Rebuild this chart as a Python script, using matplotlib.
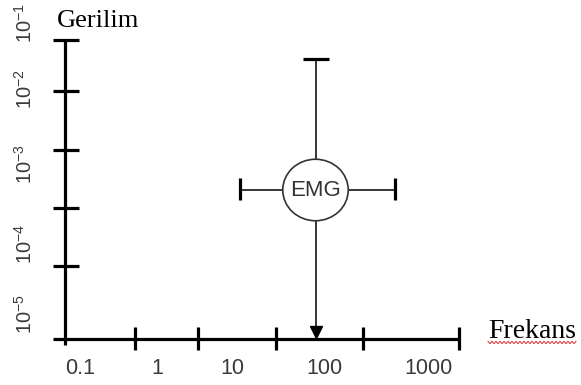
import matplotlib.pyplot as plt
import numpy as np
from matplotlib.patches import Ellipse

# axis labels
freq_labels = ['0.1', '1', '10', '100', '1000']
volt_exponents = [-1, -2, -3, -4, -5]
signal_name = 'EMG'

# layout (drawing units = pixels, y downwards)
x0, y0 = 64.5, 339          # origin of the two axes
y_top = 39.5
x_end = 459
ytick_pos = [39.5, 91, 150, 208, 266]
xtick_pos = [135, 198, 276, 363, 459]
ylab_pos = [23, 89, 164, 244, 314]
xlab_pos = [80, 157, 232, 324, 429]

# EMG marker: centre, horizontal reach, vertical reach
cx, cy = 316, 190
h_left, h_right = 240, 394.5
v_top = 58.5

fig = plt.figure(figsize=(5.81, 3.85), dpi=100)
ax = fig.add_axes([0, 0, 1, 1])
ax.set_xlim(0, 581)
ax.set_ylim(385, 0)
ax.axis('off')

k = dict(color='black', lw=2.3, solid_capstyle='butt')
ax.plot([x0, x0], [y_top, 345], **k)
ax.plot([52.7, x_end], [y0, y0], **k)
for y in ytick_pos:
    ax.plot([52.7, 79], [y, y], **k)
for x in xtick_pos:
    ax.plot([x, x], [327, 350], **k)

sans = 'Liberation Sans'
for y, e in zip(ylab_pos, volt_exponents):
    ax.text(25, y, r'$\mathregular{10^{%d}}$' % e, rotation=90, ha='center',
            va='center', fontsize=14.5, family=sans, color='#3a3a3a')
for x, s in zip(xlab_pos, freq_labels):
    ax.text(x, 368, s, ha='center', va='center', fontsize=15.5,
            family=sans, color='#3a3a3a')

ax.text(57, 27, 'Gerilim', ha='left', va='baseline', fontsize=19,
        family='Liberation Serif')
ax.text(488, 338, 'Frekans', ha='left', va='baseline', fontsize=20,
        family='Liberation Serif')
# spell-check squiggle under "Frekans"
zx = np.arange(488, 578, 2)
zy = 342.5 + np.where(np.arange(len(zx)) % 2, 1.2, -1.2)
ax.plot(zx, zy, color='#e03030', lw=0.7)

# EMG range bars
t = dict(color='black', lw=1.1)
ax.plot([cx, cx], [v_top, 328], **t)
ax.plot([h_left, h_right], [cy, cy], **t)
c = dict(color='black', lw=2.3, solid_capstyle='butt')
ax.plot([302.7, 329.3], [v_top, v_top], **c)
ax.plot([h_left, h_left], [178, 200], **c)
ax.plot([h_right, h_right], [178, 200], **c)
ax.plot([cx], [332], marker='v', markersize=9, color='black', linestyle='none')

ax.add_patch(Ellipse((315.5, cy), 65.5, 61.5, facecolor='white',
                     edgecolor='#333333', lw=1.2, zorder=3))
ax.text(315.5, cy + 0.5, signal_name, ha='center', va='center', fontsize=16,
        family=sans, color='#333333', zorder=4)

fig.savefig('out.png', dpi=100)
